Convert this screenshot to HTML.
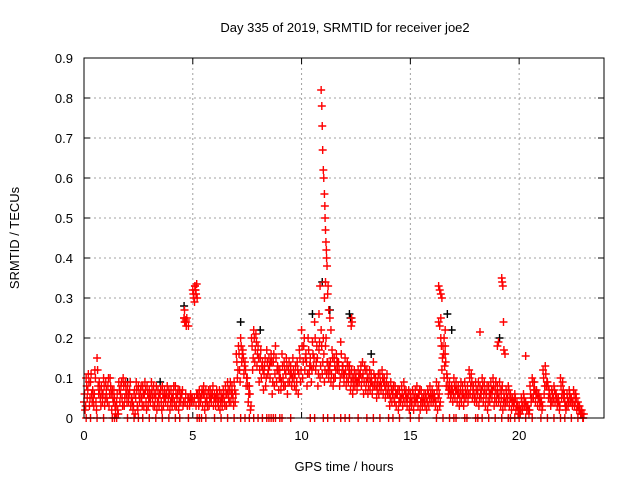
<!DOCTYPE html>
<html><head><meta charset="utf-8"><style>
body{margin:0;background:#fff}
svg{display:block;font-family:"Liberation Sans",sans-serif}
</style></head><body>
<svg id="chart" width="640" height="480" viewBox="0 0 640 480">
<rect width="640" height="480" fill="#fff"/>
<text x="345" y="32" font-size="13" text-anchor="middle">Day 335 of 2019, SRMTID for receiver joe2</text>
<text transform="translate(19,238) rotate(-90)" font-size="13" text-anchor="middle">SRMTID / TECUs</text>
<text x="344" y="471" font-size="13" text-anchor="middle">GPS time / hours</text>
<g id="grid"></g>
<g id="ticks"></g>
<g id="marks"></g>
<rect x="84" y="58" width="520" height="360" fill="none" stroke="#000" stroke-width="1"/>
</svg>
<script>
const xTicks=[0,5,10,15,20];
const yTicks=[0,0.1,0.2,0.3,0.4,0.5,0.6,0.7,0.8,0.9];
const yTickLabels=["0","0.1","0.2","0.3","0.4","0.5","0.6","0.7","0.8","0.9"];
// main cloud, hundredths of TECU, 0.1 h steps
const bandA=[4,10,11,9,7,12,15,9,8,10, 9,8,10,7,5,4,9,8,10,9, 8,7,5,6,9,8,7,8,9,8, 7,9,8,6,7,6,8,7,6,7, 7,6,8,6,7,6,25,24,23,6,
32,33,30,7,6,8,7,6,7,6, 6,7,5,6,7,8,9,7,8,9, 16,18,20,17,14,10,8,20,22,21, 18,15,14,13,17,15,16,14,18,13, 12,16,14,15,12,13,15,11,14,17,
22,18,16,20,15,19,24,18,17,22, 20,18,14,12,17,15,16,14,19,13, 15,14,13,12,10,11,12,11,14,13, 12,10,11,14,10,9,11,12,10,9, 8,9,7,8,6,7,8,9,7,6,
6,7,5,8,6,7,5,6,7,8, 7,6,9,8,20,18,16,10,9,8, 10,9,8,7,8,9,6,12,11,8, 9,7,8,10,9,6,8,9,10,7, 8,9,7,6,7,8,6,5,6,4,
3,5,6,4,3,8,10,9,7,6, 5,12,13,9,6,7,8,6,5,10, 9,4,6,7,5,7,6,4,2,1];
const bandB=[2,5,3,6,3,4,8,5,4,3, 5,3,6,4,1,2,4,5,3,6, 4,3,2,1,3,4,5,3,4,3, 4,5,3,2,3,4,3,4,3,2, 3,4,3,2,4,3,4,3,3,4,
4,3,5,4,3,2,4,3,4,3, 3,4,2,3,4,3,5,4,5,4, 10,12,14,11,8,4,2,12,14,13, 9,10,7,8,11,10,6,8,9,7, 7,10,8,6,9,8,10,7,6,9,
10,12,8,11,9,13,12,8,10,11, 9,11,10,9,8,10,12,8,11,9, 8,9,7,6,8,7,9,8,6,7, 6,7,6,8,5,6,7,6,5,6, 3,4,5,3,2,4,3,4,3,2,
3,2,4,3,2,3,4,2,3,4, 4,3,2,3,12,10,8,6,5,4, 5,4,3,4,3,5,4,6,5,4, 4,3,5,4,3,2,4,5,3,4, 4,3,2,3,4,3,2,3,2,1,
1,2,3,2,1,4,5,4,3,3, 2,6,8,5,3,4,4,3,2,5, 5,2,3,4,3,3,2,2,1,0];
const bandC=[6,8,9,11,5,10,12,7,6,8, 7,10,8,5,3,6,7,9,8,7, 6,9,4,7,7,6,8,6,7,6, 5,7,6,8,5,7,6,5,8,6, 5,8,6,7,5,7,24,25,5,5,
31,32,6,5,7,6,5,7,5,8, 5,6,7,5,6,6,7,9,6,7, 14,16,18,15,12,8,6,18,20,19, 15,17,12,15,14,13,14,16,15,12, 10,13,12,13,14,11,12,13,12,15,
18,20,14,17,13,16,20,15,19,18, 16,20,12,14,15,13,14,12,16,11, 12,13,11,10,12,9,10,13,11,12, 10,12,9,11,8,11,9,10,8,11, 6,7,8,6,7,5,6,7,5,7,
5,6,7,5,7,5,6,5,6,6, 6,5,7,6,18,16,14,8,7,7, 8,7,6,9,6,7,8,10,9,6, 7,9,6,8,7,8,6,7,8,9, 6,7,8,5,6,7,5,4,5,3,
2,4,5,3,2,6,9,7,6,5, 4,10,11,8,5,6,7,5,4,8, 7,3,5,6,4,6,5,3,1,0];
const bandD=[3,7,5,4,6,2,6,3,6,5, 4,6,2,7,3,1,6,3,5,4, 6,5,3,5,2,5,3,6,2,5, 6,3,5,4,6,2,5,6,5,4, 5,3,5,4,6,4,6,5,4,5,
5,6,3,5,6,4,3,5,6,5, 5,3,4,5,3,6,4,6,3,6, 12,9,16,13,10,6,3,15,17,16, 12,13,11,10,12,14,9,11,12,10, 9,8,11,9,11,10,8,9,11,12,
14,15,11,13,12,15,14,11,13,14, 12,14,13,11,10,12,14,10,13,11, 10,11,9,8,10,9,11,10,9,9, 8,9,8,10,7,8,8,9,7,8, 5,6,4,6,4,5,5,6,5,4,
4,4,5,6,4,4,3,4,5,5, 5,4,5,4,15,13,11,7,6,6, 7,6,5,6,5,6,6,8,7,5, 6,5,7,6,5,4,6,7,5,6, 5,5,4,4,5,5,4,4,3,2,
2,3,4,3,2,5,7,6,5,4, 3,8,9,7,4,5,6,4,3,6, 6,3,4,5,4,4,3,3,2,1];
const spikeT=[4.6,4.65,4.7,4.62,4.68,5.05,5.1,5.12,5.15,5.08,5.18,10.9,10.93,10.95,10.97,11.0,11.02,11.05,11.07,11.08,11.1,11.12,11.14,11.15,11.17,11.1,11.2,11.22,11.05,11.25,11.3,10.85,11.35,10.8,12.3,12.32,12.28,16.3,16.35,16.4,16.45,16.3,16.35,16.4,16.6,16.55,16.6,18.2,19.2,19.22,19.25,19.28,19.3,19.35,20.3,19.05,19.0];
const spikeV=[0.25,0.24,0.23,0.27,0.245,0.30,0.33,0.32,0.31,0.29,0.335,0.82,0.78,0.73,0.67,0.62,0.60,0.56,0.53,0.50,0.47,0.44,0.42,0.40,0.38,0.34,0.31,0.33,0.30,0.27,0.25,0.33,0.22,0.26,0.25,0.24,0.23,0.33,0.32,0.31,0.30,0.24,0.23,0.25,0.22,0.20,0.18,0.215,0.35,0.34,0.33,0.24,0.17,0.16,0.155,0.19,0.18];
const zeroT=[0.1,0.3,0.6,0.9,1.3,1.4,1.5,2.0,2.3,2.5,2.7,3.0,3.3,3.6,3.9,4.2,4.4,4.8,5.2,5.3,5.4,5.6,6.0,6.3,6.6,6.9,7.2,7.4,7.6,7.8,8.0,8.2,8.4,8.5,8.6,8.7,8.8,9.0,9.1,9.5,10.4,10.6,11.0,11.2,11.5,11.8,12.0,12.2,12.6,13.0,13.3,13.6,14.0,14.2,14.5,15.0,15.4,16.2,16.5,16.8,17.0,17.1,17.5,17.6,18.0,18.1,18.3,18.6,18.9,19.2,19.5,19.6,19.8,20.0,20.3,20.6,21.0,21.3,21.6,21.9,22.1,22.4,22.7];
const blackT=[4.6,7.2,8.1,10.5,10.95,11.3,12.2,12.25,16.7,16.9,19.1,13.2,2.0,3.5];
const blackV=[0.28,0.24,0.22,0.26,0.34,0.27,0.26,0.25,0.26,0.22,0.20,0.16,0.09,0.09];

const X0=84,X1=604,Y0=418,Y1=58,XMAX=23.9,YMAX=0.9;
const sx=t=>X0+t/XMAX*(X1-X0);
const sy=v=>Y0-v/YMAX*(Y0-Y1);
const NS="http://www.w3.org/2000/svg";
const grid=document.getElementById('grid'),ticks=document.getElementById('ticks'),marks=document.getElementById('marks');
function mk(tag,attrs,parent){const e=document.createElementNS(NS,tag);for(const k in attrs)e.setAttribute(k,attrs[k]);parent.appendChild(e);return e;}
xTicks.forEach(t=>{const x=sx(t);
 if(t>0){const g=mk('line',{x1:x,x2:x,y1:Y1,y2:Y0,stroke:'#a0a0a0','stroke-dasharray':'2,3'},grid);
 
 }
 const a=mk('path',{d:`M${x} ${Y0}v-6M${x} ${Y1}v6`,stroke:'#000'},ticks);
 
 
 const l=mk('text',{x:x,y:Y0+22,'font-size':13,'text-anchor':'middle'},ticks);l.textContent=t;
 
 
});
yTicks.forEach((v,i)=>{const y=sy(v);
 if(v>0&&v<YMAX){const g=mk('line',{x1:X0,x2:X1,y1:y,y2:y,stroke:'#a0a0a0','stroke-dasharray':'2,3'},grid);
 
 }
 const a=mk('path',{d:`M${X0} ${y}h6M${X1} ${y}h-6`,stroke:'#000'},ticks);
 
 
 const l=mk('text',{x:X0-11,y:y+5,'font-size':13,'text-anchor':'end'},ticks);l.textContent=yTickLabels[i];
 
 
});
function cross(t,v,color,name){const x=sx(t),y=sy(v);
 const p=mk('path',{d:`M${x-4} ${y}h8M${x} ${y-4}v8`,stroke:color,'stroke-width':1.4},marks);
 
 }
blackT.forEach((t,i)=>cross(t,blackV[i],'#000','black-point'));
bandA.forEach((v,i)=>cross(i*0.1,v/100,'#f00','red-point'));
bandC.forEach((v,i)=>cross(i*0.1+0.025,v/100,'#f00','red-point'));
bandB.forEach((v,i)=>cross(i*0.1+0.05,v/100,'#f00','red-point'));
bandD.forEach((v,i)=>cross(i*0.1+0.075,v/100,'#f00','red-point'));
spikeT.forEach((t,i)=>cross(t,spikeV[i],'#f00','red-spike-point'));
zeroT.forEach(t=>cross(t,0,'#f00','red-zero-point'));
</script>
</body></html>
